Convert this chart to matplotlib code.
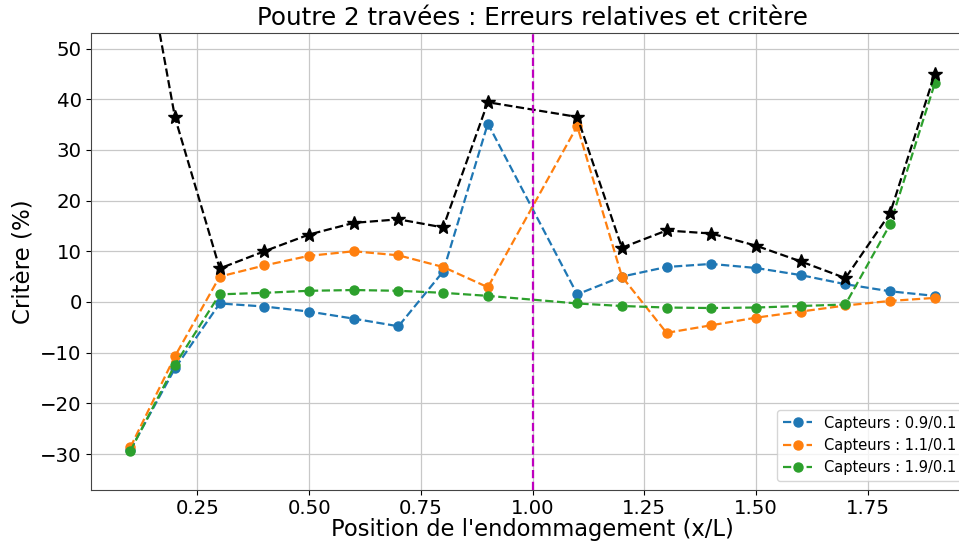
import matplotlib
matplotlib.use("Agg")
import matplotlib.pyplot as plt
from matplotlib.ticker import MultipleLocator

x = [0.1, 0.2, 0.3, 0.4, 0.5, 0.6, 0.7, 0.8, 0.9,
     1.1, 1.2, 1.3, 1.4, 1.5, 1.6, 1.7, 1.8, 1.9]
blue = [-29.2, -13.1, -0.3, -0.9, -1.9, -3.3, -4.8, 6.0, 35.2,
        1.5, 5.0, 6.9, 7.5, 6.7, 5.3, 3.5, 2.1, 1.2]
orange = [-28.7, -10.7, 5.0, 7.2, 9.1, 10.0, 9.2, 6.9, 2.9,
          34.7, 5.0, -6.1, -4.6, -3.1, -1.9, -0.7, 0.2, 0.8]
green = [-29.4, -12.4, 1.5, 1.8, 2.2, 2.35, 2.2, 1.8, 1.2,
         -0.3, -0.8, -1.1, -1.2, -1.1, -0.8, -0.5, 15.3, 43.1]
critere = [85.0, 36.4, 6.6, 10.0, 13.3, 15.6, 16.3, 14.7, 39.4,
           36.5, 10.7, 14.1, 13.5, 11.1, 8.0, 4.7, 17.5, 45.0]
labels = ["Capteurs : 0.9/0.1", "Capteurs : 1.1/0.1", "Capteurs : 1.9/0.1"]
title = "Poutre 2 travées : Erreurs relatives et critère"
xlabel = "Position de l'endommagement (x/L)"
ylabel = "Critère (%)"

fig = plt.figure(figsize=(9.59, 5.42), dpi=100)
W, H = 959, 542
ax = fig.add_axes([90.7 / W, (H - 490) / H, (975 - 90.7) / W, (490 - 33.3) / H])

for y, c, lab in zip([blue, orange, green], ["C0", "C1", "C2"], labels):
    ax.plot(x, y, "--o", color=c, label=lab, linewidth=1.6, markersize=6.5)
ax.plot(x, critere, "--*", color="k", linewidth=1.6, markersize=10.5)
ax.axvline(1.0, color="m", linestyle="--", linewidth=1.6)

ax.set_xlim(0.0114, 1.99)
ax.set_ylim(-37.1, 53.0)
ax.yaxis.set_major_locator(MultipleLocator(10))
ax.grid(True, color="#c8c8c8", linewidth=0.9)
ax.tick_params(labelsize=14.2, pad=3)
ax.set_title(title, fontsize=17.7)
ax.set_xlabel(xlabel, fontsize=16.3, labelpad=0)
ax.set_ylabel(ylabel, fontsize=16.5)
ax.legend(loc="lower right", fontsize=10.5,
          bbox_to_anchor=(962 / W, (H - 481) / H),
          bbox_transform=fig.transFigure, borderaxespad=0)
for s in ax.spines.values():
    s.set_color("#444444")

fig.savefig("out.png", dpi=100)
